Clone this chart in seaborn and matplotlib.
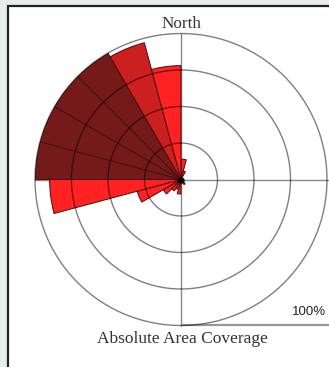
import numpy as np
import matplotlib
matplotlib.use("Agg")
import matplotlib.pyplot as plt
from matplotlib.patches import Rectangle
from matplotlib.lines import Line2D
import seaborn as sns

# Compass sectors (start angle, degrees clockwise from north), 15 degrees wide
sector_start = [0, 15, 135, 180, 195, 210, 225, 240, 255, 270, 285, 300, 315, 330, 345]
coverage_pct = [14, 6, 4, 10, 7, 9, 14, 31, 90, 100, 100, 100, 100, 97, 78]
coverage_class = [0, 0, 0, 0, 0, 0, 0, 0, 0, 2, 2, 2, 2, 1, 0]
ring_levels = [25, 50, 75, 100]
sector_width = 15

sns.set_style("white")
plt.rcParams["font.family"] = ["Liberation Serif", "DejaVu Serif"]

class_colors = sns.color_palette(["#fe2222", "#cc1f1f", "#751a1a"])

W, H = 329, 367
fig = plt.figure(figsize=(W / 100, H / 100), dpi=100)
fig.patch.set_facecolor("#e8ece8")

# white framed panel
panel = Rectangle((8 / W, -0.05), 1.2, (H - 6) / H + 0.05, transform=fig.transFigure,
                  facecolor="white", edgecolor="#222222", linewidth=1.6, zorder=-5)
fig.patches.append(panel)

cx, cy, R = 181, 179.5, 146
ax = fig.add_axes([(cx - R) / W, (H - cy - R) / H, 2 * R / W, 2 * R / H], projection="polar")
ax.set_zorder(2)
ax.set_theta_zero_location("N")
ax.set_theta_direction(-1)
ax.set_ylim(0, 100)
ax.patch.set_alpha(0)
ax.grid(False)
ax.spines["polar"].set_visible(False)
ax.set_xticks([])
ax.set_yticks([])

theta = np.deg2rad(np.array(sector_start) + sector_width / 2)
ax.bar(theta, coverage_pct, width=np.deg2rad(sector_width), bottom=0,
       color=[class_colors[c] for c in coverage_class],
       edgecolor="#4a0c0c", linewidth=0.7, zorder=2)

# concentric rings drawn over the sectors
t = np.linspace(0, 2 * np.pi, 400)
for r in ring_levels:
    ax.plot(t, np.full_like(t, r), color="black", alpha=0.5, linewidth=1.0,
            zorder=3, clip_on=False)

# N-S and W-E axes
ax.plot([0, np.pi], [100, 100], color="#888888", linewidth=1.0, zorder=1, clip_on=False)
ax.plot([np.pi / 2, np.pi / 2], [0, 102], color="#888888", linewidth=1.0, zorder=1, clip_on=False)
ax.plot([3 * np.pi / 2, 3 * np.pi / 2], [0, 100], color="#888888", linewidth=1.0, zorder=1,
        clip_on=False)
ax.plot([0], [0], marker="o", color="black", markersize=3.5, zorder=4)

# 100% scale bar
ax.add_line(Line2D([0.503, 1.01], [0.002, 0.002], transform=ax.transAxes,
                   color="#999999", linewidth=1.6, clip_on=False))
ax.text(0.94, 0.046, "100%", transform=ax.transAxes, ha="center", va="center",
        fontsize=9.5, family=["Liberation Sans", "DejaVu Sans"], color="#222222")

fig.text(182 / W, 1 - 24 / H, "North", ha="center", va="center", fontsize=12.3, color="#333333")
fig.text(182 / W, 1 - 339 / H, "Absolute Area Coverage", ha="center", va="center",
         fontsize=12.5, color="#333333")

fig.savefig("out.png", dpi=100, facecolor=fig.get_facecolor())
